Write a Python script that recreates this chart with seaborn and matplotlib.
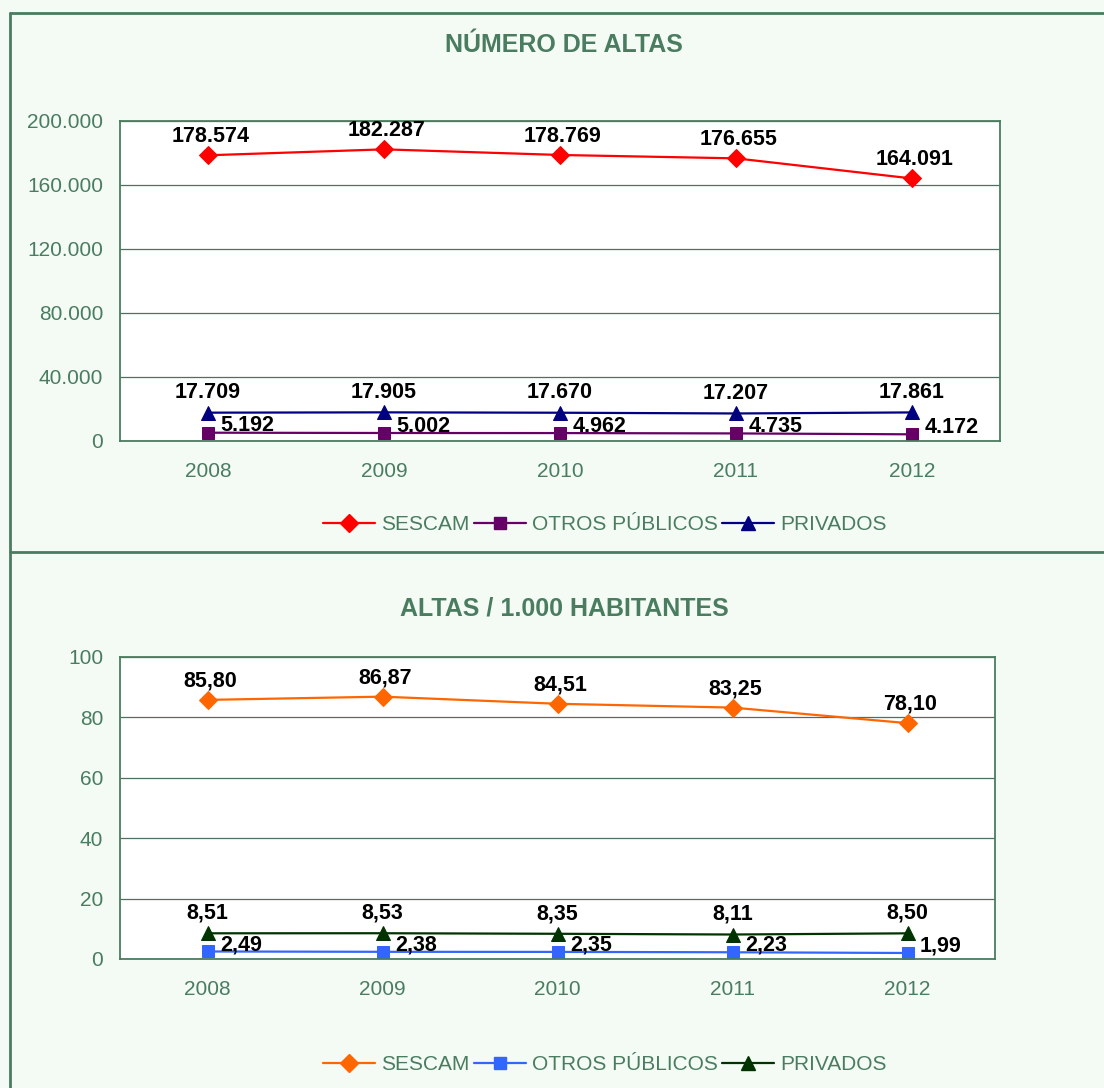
import matplotlib
matplotlib.use("Agg")
import matplotlib.pyplot as plt
from matplotlib.lines import Line2D
from matplotlib.ticker import FixedLocator, FuncFormatter
import seaborn as sns
import numpy as np

# data
years = ["2008", "2009", "2010", "2011", "2012"]

altas_sescam = [178574, 182287, 178769, 176655, 164091]
altas_otros = [5192, 5002, 4962, 4735, 4172]
altas_privados = [17709, 17905, 17670, 17207, 17861]

hab_sescam = [85.80, 86.87, 84.51, 83.25, 78.10]
hab_otros = [2.49, 2.38, 2.35, 2.23, 1.99]
hab_privados = [8.51, 8.53, 8.35, 8.11, 8.50]

series_names = ["SESCAM", "OTROS PÚBLICOS", "PRIVADOS"]

sns.set_style("white")
plt.rcParams['font.family'] = ['Liberation Sans', 'DejaVu Sans']

GREEN = "#4a7d60"
BG = "#f4faf4"
LBL = 15.5
TCK = 15

fig = plt.figure(figsize=(11.04, 10.88), dpi=100)
fig.patch.set_facecolor(BG)

# panel borders (figure coords)
W, H = 1104.0, 1088.0
def fx(px):
    return px / W
def fy(py):
    return 1 - py / H
for (x0, y0, x1, y1) in [(10, 13, 1110, 13), (10, 13, 10, 1095), (10, 552, 1110, 552)]:
    fig.add_artist(Line2D([fx(x0), fx(x1)], [fy(y0), fy(y1)], color=GREEN, lw=2))


def thousands(v, pos=None):
    return f"{int(round(v)):,}".replace(",", ".")


def decimal2(v):
    return f"{v:.2f}".replace(".", ",")


def draw_panel(ax, values, colors, markers, msizes, ylim, yticks, yfmt, lblfmt, title, title_y, legend_y):
    ax.set_facecolor("white")
    for name, vals, col, mk, ms in zip(series_names, values, colors, markers, msizes):
        sns.lineplot(x=np.arange(len(years)), y=vals, ax=ax, color=col, marker=mk,
                     markersize=ms, markeredgecolor=col, linewidth=1.6, label=name)
    ax.set_xlim(-0.5, len(years) - 0.5)
    ax.set_ylim(*ylim)
    ax.set_yticks(yticks)
    ax.yaxis.set_major_formatter(FuncFormatter(lambda v, p: yfmt(v)))
    ax.set_xticks(np.arange(len(years)))
    ax.set_xticklabels(years)
    ax.xaxis.set_minor_locator(FixedLocator(np.arange(len(years) + 1) - 0.5))
    ax.tick_params(axis="x", which="major", length=0, pad=15, labelsize=TCK, labelcolor=GREEN)
    ax.tick_params(axis="x", which="minor", length=7, width=1, color=GREEN, direction="out")
    ax.tick_params(axis="y", length=6, width=1, color=GREEN, direction="out", labelsize=TCK,
                   labelcolor=GREEN, pad=6)
    ax.grid(axis="y", color="#4f6f5f", lw=0.9)
    ax.set_axisbelow(True)
    for s in ax.spines.values():
        s.set_color(GREEN)
        s.set_linewidth(1.3)
    ax.set_xlabel("")
    ax.set_ylabel("")

    # data labels
    sesc, otros, priv = values
    for i in range(len(years)):
        ax.annotate(lblfmt(sesc[i]), (i, sesc[i]), xytext=(2, 6), textcoords="offset points",
                    ha="center", va="bottom", fontsize=LBL, fontweight="bold", color="black")
        ax.annotate(lblfmt(priv[i]), (i, priv[i]), xytext=(0, 7), textcoords="offset points",
                    ha="center", va="bottom", fontsize=LBL, fontweight="bold", color="black")
        ax.annotate(lblfmt(otros[i]), (i, otros[i]), xytext=(9, 5), textcoords="offset points",
                    ha="left", va="center", fontsize=LBL, fontweight="bold", color="black")

    ax.legend_.remove()
    handles = [Line2D([0], [0], color=c, marker=m, markersize=ms, markeredgecolor=c, lw=1.6)
               for c, m, ms in zip(colors, markers, msizes)]
    fig.legend(handles, series_names, loc="center", bbox_to_anchor=(fx(605), fy(legend_y)),
               ncol=3, frameon=False, fontsize=TCK, labelcolor=GREEN, handlelength=2.5,
               handletextpad=0.3, columnspacing=0.2)
    fig.text(fx(564), fy(title_y), title, ha="center", va="center", fontsize=18,
             fontweight="bold", color=GREEN)


ax1 = fig.add_axes([fx(120), fy(441), (1000 - 120) / W, (441 - 121) / H])
draw_panel(ax1, [altas_sescam, altas_otros, altas_privados],
           ["#ff0000", "#660066", "#000080"], ["D", "s", "^"], [9.5, 9, 10.5],
           (0, 200000), [0, 40000, 80000, 120000, 160000, 200000],
           thousands, thousands, "NÚMERO DE ALTAS", 45, 525)

ax2 = fig.add_axes([fx(120), fy(959), (995 - 120) / W, (959 - 657) / H])
draw_panel(ax2, [hab_sescam, hab_otros, hab_privados],
           ["#ff6600", "#3366ff", "#003300"], ["D", "s", "^"], [9.5, 9, 10.5],
           (0, 100), [0, 20, 40, 60, 80, 100],
           lambda v: f"{int(v)}", decimal2, "ALTAS / 1.000 HABITANTES", 609, 1065)

fig.savefig("out.png", dpi=100, facecolor=BG)
